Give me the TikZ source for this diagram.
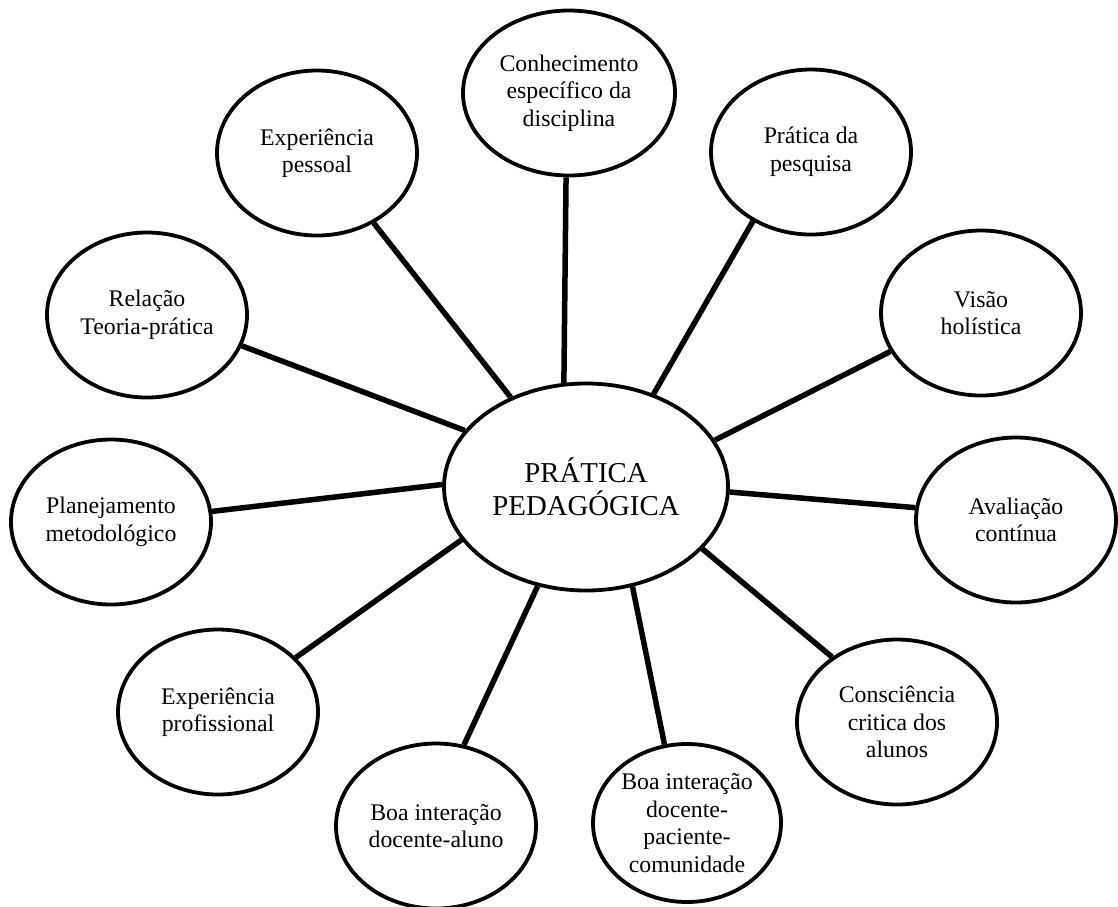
\documentclass[tikz,border=0pt]{standalone}
\usepackage{fontspec}
\setmainfont{Liberation Serif}
\usepackage{tikz}
\usetikzlibrary{shapes.geometric}

\tikzset{
  idea/.style={ellipse, draw, line width=3.8pt, inner sep=0pt, align=center,
    minimum width=200pt, minimum height=165pt,
    font=\fontsize{23.8}{27.5}\selectfont},
  core/.style={idea, minimum width=284pt, minimum height=207pt,
    font=\fontsize{28.8}{33}\selectfont},
  link/.style={line width=5.5pt}
}

\begin{document}
\begin{tikzpicture}[x=1pt,y=-1pt]
		\useasboundingbox (0,0) rectangle (1118,906);

		% Define nodes
		\node[core] (PP) at (586,487) {PRÁTICA\\PEDAGÓGICA};
		\node[idea, minimum width=212pt] (CE) at (569,93) {Conhecimento\\específico da\\disciplina};
		\node[idea] (PQ) at (811,152) {Prática da\\pesquisa};
		\node[idea] (VH) at (981,313) {Visão\\holística};
		\node[idea] (AC) at (1016,520) {Avaliação\\contínua};
		\node[idea] (CC) at (897,722) {Consciência\\critica dos\\alunos};
		\node[idea, minimum width=188pt, minimum height=158pt] (IP) at (687,823) {Boa interação\\docente-\\paciente-\\comunidade};
		\node[idea] (IA) at (436,826) {Boa interação\\docente-aluno};
		\node[idea] (EF) at (218,712) {Experiência\\profissional};
		\node[idea] (PM) at (111,522) {Planejamento\\metodológico};
		\node[idea] (RT) at (147,315) {Relação\\Teoria-prática};
		\node[idea] (EP) at (317,153) {Experiência\\pessoal};

		% Connect the nodes
		\foreach \a/\n/\b in {102/CE/268, 54/PQ/230, 20/VH/203, -2/AC/173,
				-28/CC/135, -65/IP/106, -116/IA/71, -157/EF/35,
				179/PM/6, 155/RT/-18, 130/EP/-51}
			\draw[link] (PP.\a) -- (\n.\b);
	\end{tikzpicture}
\end{document}
